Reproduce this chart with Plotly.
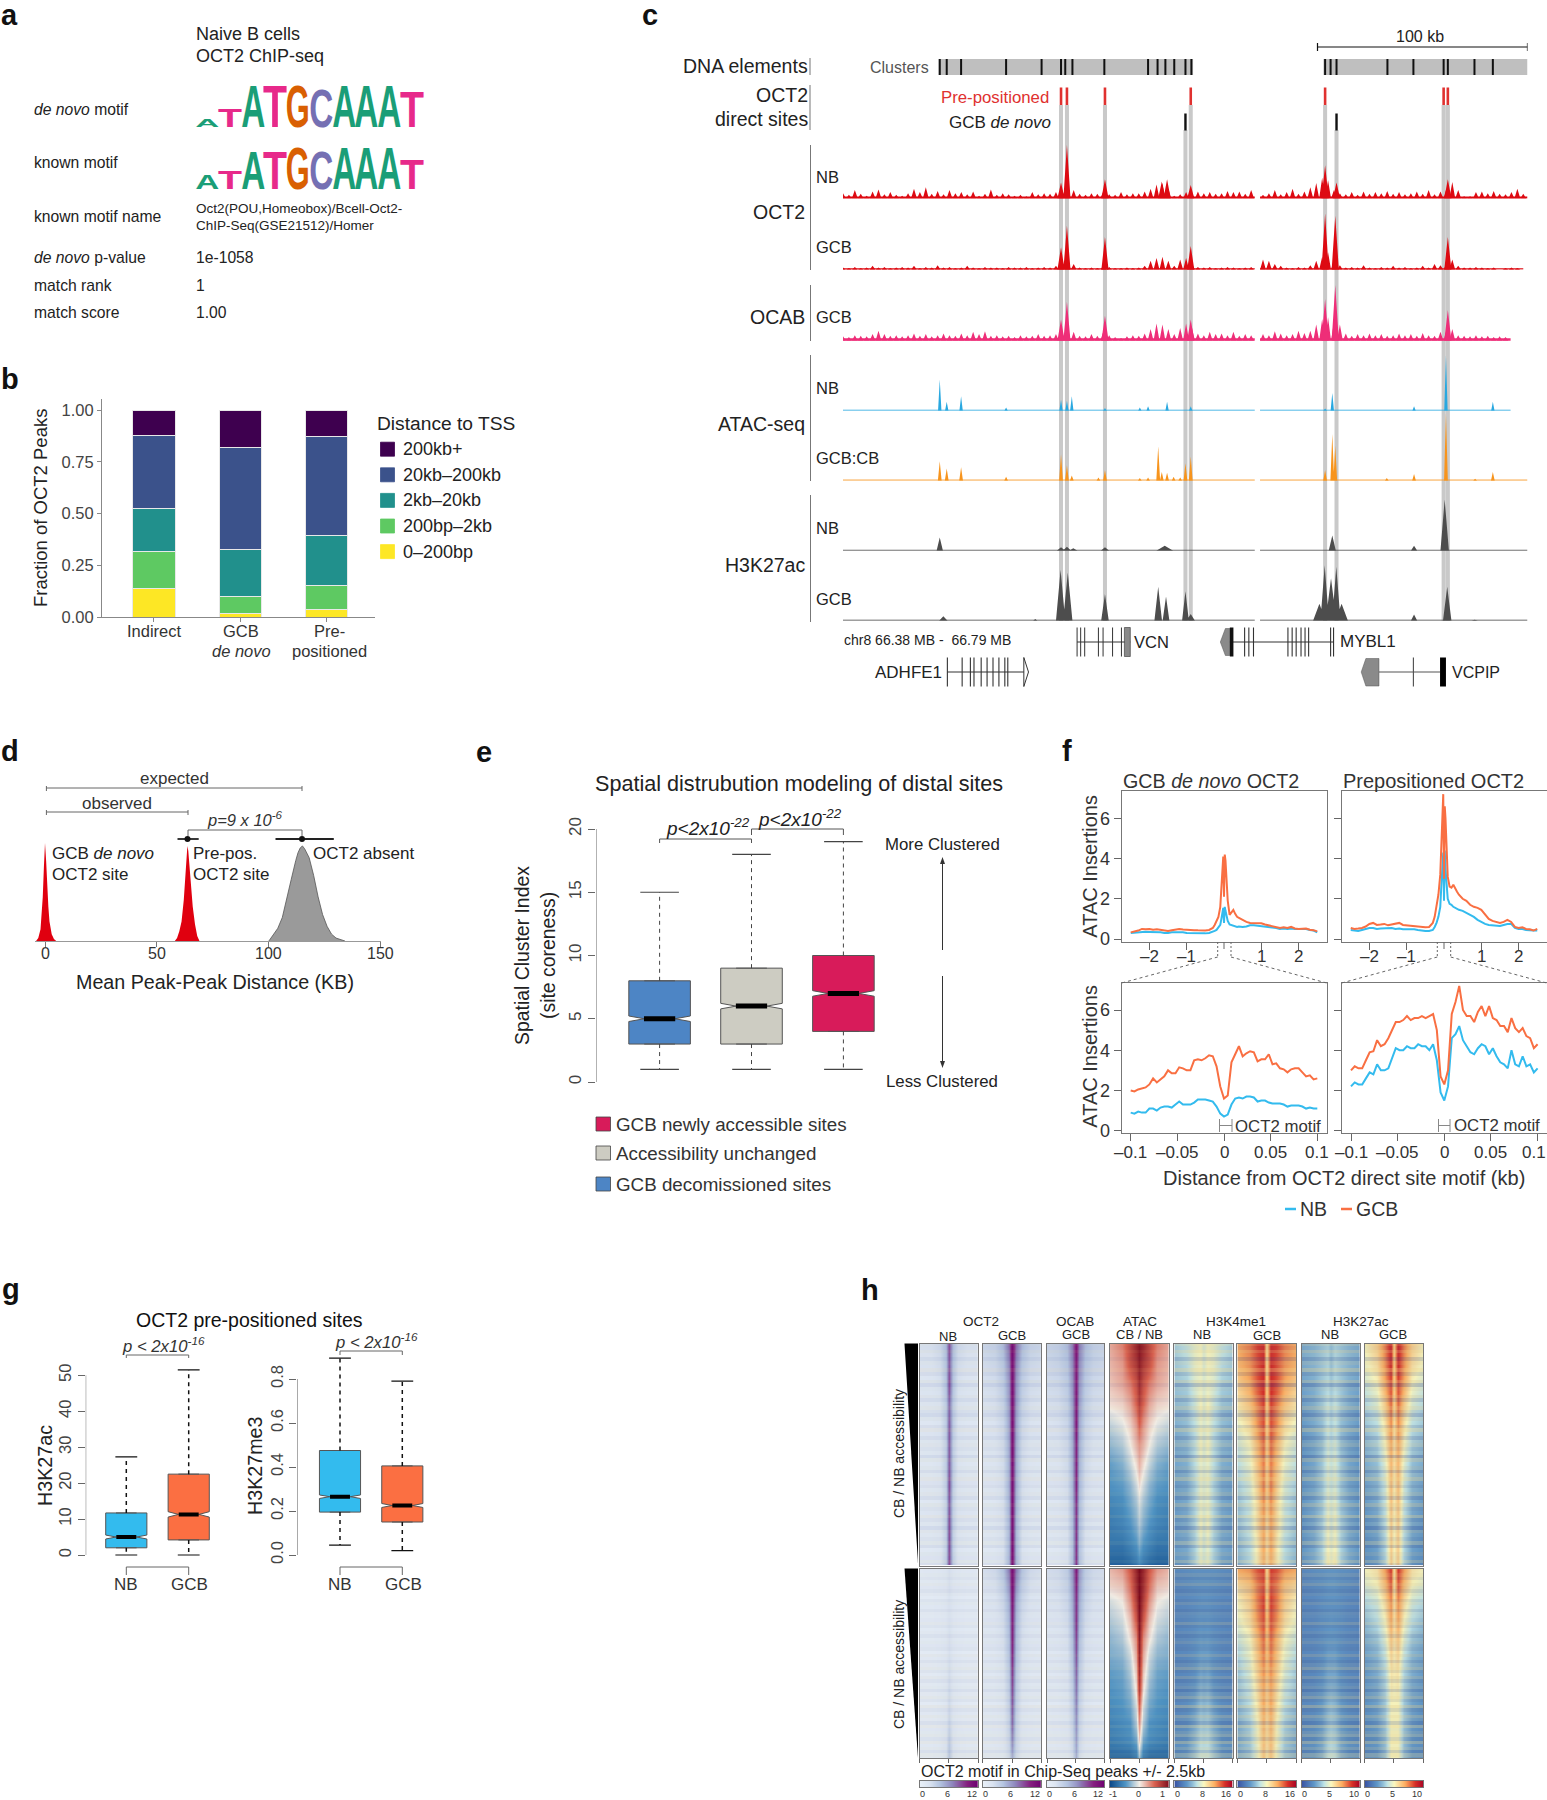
import json
import plotly.graph_objects as go

W, H = 1547, 1800
FONT = "Liberation Sans, Arial, sans-serif"
INK = "#222222"

# ---------- panel b ----------
b_cats_top = ["Indirect", "GCB", "Pre-"]
b_cats_low = ["", "<i>de novo</i>", "positioned"]
b_names = ["0–200bp", "200bp–2kb", "2kb–20kb", "20kb–200kb", "200kb+"]
b_colors = ["#fde725", "#5ec962", "#21908c", "#3b528b", "#3e004f"]
b_vals = [[0.14, 0.015, 0.035], [0.175, 0.085, 0.115], [0.21, 0.225, 0.245],
          [0.35, 0.495, 0.475], [0.125, 0.18, 0.13]]

# ---------- panel c ----------
cluster_spans = [[45.2, 165.7], [227.4, 324.0]]
cluster_ticks = [45.8, 49.1, 55.9, 77.2, 94, 103.2, 105.2, 108.6, 123.7, 144.4, 148.9, 152.6, 156.8, 162.1, 164.9,
                 228.2, 230.8, 233.6, 257.7, 270, 284.3, 286.3, 298.9, 307.6]
pre_sites = [103.2, 106, 124, 164.6, 228.2, 284.3, 286.3]
denovo_sites = [162.1, 233.6]
band_sites = [103.2, 106, 124, 162.1, 164.6, 228.2, 233.6, 284.3, 286.3]
band_tops = [105, 105, 105, 130, 105, 105, 130, 105, 105]
grid_step = 2.8
oct2_nb_noise = [10,7,16,9,5,13,17,8,12,7, 5,10,18,12,21,9,14,8,16,10, 12,8,13,5,9,17,7,10,8,5,
                 7,4,12,8,10,9,12,18,23,16, 9,7,10,9,13,8,7,12,8,10, 10,13,18,26,29,18,5,8,12,9,
                 13,10,12,9,10,14,12,13,9,16, None, 7,10,16,8,12,18,9,13,21,29, 39,34,16,10,8,12,7,13,9,12,
                 10,14,9,12,8,10,13,9,16,8, 13,18,31,16,4,4,12,13,10,14, 9,8,12,18,9]
oct2_gcb_noise = [4,3,5,3,4,7,4,5,3,4, 5,4,7,3,5,4,8,4,5,3, 4,7,4,3,5,4,4,3,5,4,
                  4,5,3,4,5,4,7,12,21,10, 4,3,4,3,7,5,3,3,4,3, 4,7,16,21,23,16,7,18,21,10,
                  5,4,5,3,4,5,4,3,4,5, None, 18,16,10,7,4,3,5,4,8,16, 23,31,18,8,4,5,4,8,4,3,
                  5,4,7,4,5,3,4,7,4,10, 8,10,18,7,4,4,5,4,3,4, 0,3,4,3,0]
ocab_noise = [8,7,10,9,8,12,18,12,9,10, 8,10,13,9,12,8,10,13,10,9, 13,10,16,12,17,9,10,8,9,7,
              10,8,9,12,9,10,12,16,23,16, 9,8,12,9,16,10,7,5,8,10, 9,13,21,31,29,21,12,23,31,23,
              13,10,16,12,13,10,16,9,12,10, None, 12,10,17,13,10,12,18,14,18,29, 39,42,34,29,13,9,12,10,13,10,
              12,9,10,13,10,12,9,14,10,9, 16,18,21,10,9,8,10,8,9,7, 8,7,None,None,None]
oct2_nb_pos = [103.2, 106, 124, 150.9, 153.4, 164.6, 228.2, 233.6, 286.3]
oct2_nb_h = [30, 100, 36, 32, 36, 25, 62, 30, 36]
oct2_gcb_pos = [103.2, 106, 124, 164.6, 228.2, 233, 286.3]
oct2_gcb_h = [40, 78, 58, 42, 100, 96, 58]
ocab_pos = [103.2, 106, 124, 164.6, 228.2, 233, 286.3]
ocab_h = [38, 70, 45, 38, 75, 100, 55]
atac_nb_pos = [45.8, 49.1, 55.9, 77.2, 103.2, 106, 108.3, 124, 140.5, 144.4, 153.4, 164.6, 228.2, 231.6, 270.3, 285.4, 307.6]
atac_nb_h = [56, 16, 26, 6, 20, 18, 26, 5, 6, 8, 16, 8, 4, 32, 8, 100, 16]
atac_gcb_pos = [45.8, 49.1, 55.9, 77.2, 103.2, 106, 108.3, 120.9, 124, 140.5, 144.4, 149.2, 150.9, 153.4, 156.5, 159.6,
                162.1, 164.6, 228.2, 231.6, 233, 257.4, 270.3, 285.4, 299.2, 307.6]
atac_gcb_h = [29, 18, 20, 6, 39, 23, 8, 5, 16, 4, 5, 51, 13, 12, 6, 5, 26, 36, 16, 69, 52, 4, 10, 100, 3, 13]
k27_nb_pos = [45.8, 103.2, 106, 109, 124, 152.3, 231.6, 270.3, 284.8]
k27_nb_h = [26, 7, 8, 5, 7, 10, 30, 10, 100]
k27_nb_w = [1.5, 2, 2, 2, 2, 4, 1.7, 1.5, 2]
k27_gcb_pos = [47.5, 91, 103, 106.4, 124, 149.2, 152.9, 162.1, 164.6, 225.5, 228, 231, 233.5, 236, 270.3, 286, 299]
k27_gcb_h = [8, 3, 90, 85, 47, 60, 43, 52, 12, 30, 98, 75, 95, 30, 11, 60, 2]
k27_gcb_w = [2, 1, 2.2, 2.2, 1.8, 1.8, 1.6, 1.6, 2, 3, 2, 2.5, 2, 3, 1.5, 2, 1.5]
vcn_exons = [110.8, 112.5, 114.4, 120.9, 123.1, 127.6, 131.8]
mybl1_exons = [190.1, 192.1, 194.3, 210.6, 212.6, 214.5, 216.8, 218.7, 220.4, 230.8, 232.2]
adhfe1_exons = [49.4, 56.4, 60.3, 62, 65.4, 68.2, 71, 73.8, 76.6, 78]
vcpip_exons = [270]

# ---------- panel d ----------
d_red1_x = [-4, -3, -2, -1.5, -1, -0.5, 0, 0.5, 1, 1.5, 2, 3, 4, 5]
d_red1_y = [0, .03, .12, .25, .45, .75, 1, .82, .55, .35, .2, .07, .02, 0]
d_red2_x = [58, 59, 60, 61, 62, 63, 63.6, 64, 65, 66, 67, 68, 69]
d_red2_y = [0, .03, .1, .2, .42, .8, .97, .92, .62, .35, .17, .05, 0]
d_grey_x = [100, 102, 104, 106, 108, 110, 112, 113, 114, 115, 116, 118, 120, 122, 124, 126, 128, 130, 134]
d_grey_y = [0, .06, .13, .24, .42, .63, .82, .9, .95, .97, .94, .85, .67, .45, .27, .15, .07, .03, 0]
d_ticks = [0, 50, 100, 150]

# ---------- panel e ----------
e_colors = ["#4d85c5", "#cdccc2", "#d81b5a"]
e_low = [1, 1, 1]
e_q1 = [3, 3, 4]
e_med = [5, 6, 7]
e_q3 = [8, 9, 10]
e_high = [15, 18, 19]

# ---------- panel f ----------
NB_C, GCB_C = "#33bbee", "#f96f42"
top_x = [-2.5,-2.4,-2.3,-2.2,-2.1,-2,-1.9,-1.8,-1.7,-1.6,-1.5,-1.4,-1.3,-1.2,-1.1,-1,-.9,-.8,-.7,-.6,-.5,-.4,-.3,-.25,-.2,-.15,-.1,-.07,-.04,-.02,0,
         .02,.04,.07,.1,.15,.2,.25,.3,.35,.4,.5,.6,.7,.8,.9,1,1.1,1.2,1.3,1.4,1.5,1.6,1.7,1.8,1.9,2,2.1,2.2,2.3,2.4,2.5]
tl_gcb = [.33,.36,.42,.5,.48,.5,.46,.48,.45,.42,.4,.44,.46,.5,.47,.45,.46,.44,.43,.42,.42,.45,.55,.7,.9,1.1,1.6,2.6,3.9,4.1,2.1,
          4.2,3.9,2.9,1.9,1.2,1.35,1.45,1.25,1.1,1.05,.95,.85,.8,.8,.78,.78,.72,.68,.62,.58,.55,.58,.55,.6,.52,.5,.5,.52,.46,.44,.38]
tl_nb = [.3,.32,.35,.36,.36,.35,.34,.36,.33,.3,.3,.34,.35,.36,.34,.3,.29,.28,.28,.28,.28,.3,.35,.4,.45,.55,.7,1,1.4,1.55,.8,
         1.6,1.4,1.1,.9,.72,.68,.65,.62,.6,.62,.6,.62,.68,.68,.66,.65,.62,.6,.58,.55,.5,.52,.5,.52,.5,.5,.5,.5,.45,.42,.33]
tr_gcb = [.55,.5,.52,.55,.62,.75,.8,.7,.72,.75,.68,.72,.75,.8,.7,.68,.65,.62,.6,.6,.58,.6,.8,1.1,1.7,2.2,3.2,4.8,6.2,7.2,3.0,
          6.6,6,4.5,3.1,2.6,2.55,2.7,2.5,2.35,2.2,2,1.9,1.7,1.6,1.55,1.45,1.2,1,.9,.85,.8,.85,.95,.85,.6,.55,.58,.5,.48,.42,.5]
tr_nb = [.45,.42,.4,.45,.5,.55,.55,.5,.52,.52,.55,.55,.5,.52,.48,.48,.5,.48,.45,.42,.4,.4,.45,.6,.8,1.1,1.6,2.7,3.8,4.3,1.9,
         4.4,3.5,2.6,2,1.75,1.7,1.6,1.55,1.5,1.45,1.4,1.3,1.2,1.1,.95,.85,.75,.7,.68,.65,.65,.7,.75,.75,.55,.5,.5,.45,.42,.42,.42]
bot_x = [-.1,-.096,-.092,-.088,-.084,-.08,-.076,-.072,-.068,-.064,-.06,-.056,-.052,-.048,-.044,-.04,-.036,-.032,-.028,-.024,-.02,-.016,-.012,-.008,-.004,0,
         .004,.008,.012,.016,.02,.024,.028,.032,.036,.04,.044,.048,.052,.056,.06,.064,.068,.072,.076,.08,.084,.088,.092,.096,.1]
bl_gcb = [2,1.95,2.05,2.1,2.15,2.3,2.6,2.4,2.55,2.7,3,2.85,2.85,3.15,3.1,3,3,3.5,3.55,3.5,3.6,3.75,3.7,3.2,2.2,1.6,
          1.75,3.4,3.8,4.2,3.7,3.85,3.95,3.9,3.45,3.55,3.55,3.8,3.3,3.35,3.1,3.05,2.9,3.05,3.1,3.1,2.9,2.7,2.75,2.55,2.6]
bl_nb = [.9,.85,.95,.9,.9,1.1,1.1,1,1.15,1.2,1.2,1.15,1.3,1.45,1.3,1.3,1.3,1.4,1.55,1.55,1.55,1.5,1.45,1.2,.85,.7,
         .8,1.3,1.6,1.65,1.6,1.7,1.7,1.65,1.45,1.5,1.5,1.4,1.35,1.35,1.35,1.3,1.2,1.25,1.25,1.25,1.2,1.1,1.15,1.1,1.1]
br_gcb = [3,3.2,3.1,3.1,3.5,3.9,3.95,4.5,4.2,4.3,4.6,5,5.4,5.4,5.5,5.7,5.5,5.6,5.6,5.7,5.6,5.7,5.8,5,2.7,2.3,
          3,5.8,6.4,7.2,6,5.7,5.7,5.4,5.9,6.2,5.7,6.2,5.6,5.5,5.2,5.2,4.9,5.6,5.1,4.9,5.1,4.7,4.6,4.1,4.3]
br_nb = [2.2,2.4,2.3,2.3,2.6,2.9,2.8,3.3,3,3,3.1,3.6,4.1,4,4,4.2,4.1,4.1,4.3,4.2,4.2,4,4.3,3.5,1.9,1.5,
         2.2,4.6,4.8,5.2,4.5,4.2,3.9,3.8,4.1,4.3,4.2,3.8,4.1,3.7,3.4,3.3,3.1,4,3.3,3.2,3.7,3.2,3.3,2.9,3.1]

# ---------- panel g ----------
g_ac_low, g_ac_q1, g_ac_med, g_ac_q3, g_ac_high = [0, 0], [2, 4.2], [5, 11.3], [11.7, 22.5], [27.3, 51.5]
g_me_low, g_me_q1, g_me_med, g_me_q3, g_me_high = [.045, .02], [.195, .15], [.265, .225], [.475, .405], [.895, .79]

# ---------- panel h (half profiles, centre outward; rows top to bottom) ----------
h_offsets = [0, .3, .8, 1.5, 2.5]
h_a = {
 "oct2_nb": [[8.5,4.5,2.6,2,1.9],[8,4,2.2,1.7,1.6],[8.5,4,2,1.6,1.5],[7.5,3.5,1.8,1.5,1.4],[8,3.5,1.7,1.3,1.3],[8,3.2,1.6,1.3,1.2],[8,3.4,1.6,1.2,1.2],[8.5,3.2,1.5,1.2,1.1],[8,3,1.5,1.2,1.1],[8.5,3.2,1.5,1.1,1.1],[8.5,3,1.4,1.1,1],[8.5,3.4,1.5,1.2,1.2]],
 "oct2_gcb": [[11.5,7.5,4.6,3.2,2.8],[11,6.5,3.8,2.6,2.2],[11,6,3.4,2.3,2],[11,5.8,3,2,1.7],[11,5.4,2.6,1.8,1.5],[11,5.2,2.4,1.6,1.4],[11,5,2.2,1.5,1.3],[11,5,2.1,1.4,1.2],[11,4.8,2,1.3,1.1],[11,4.6,1.9,1.3,1.1],[11,4.6,1.8,1.2,1],[11,4.8,1.9,1.3,1.2]],
 "ocab": [[10.5,7,4.6,3.4,3],[10,6.4,4,3,2.6],[10,6,3.6,2.6,2.3],[10,5.6,3.2,2.2,2],[10,5.2,2.8,2,1.7],[9.5,5,2.6,1.8,1.6],[9.5,4.8,2.4,1.6,1.4],[9.5,4.6,2.2,1.5,1.3],[9,4.4,2,1.4,1.2],[9,4.2,1.9,1.3,1.1],[9,4,1.8,1.2,1],[9,4.2,1.9,1.3,1.1]],
 "atac": [[.95,.85,.65,.4,.25],[.9,.75,.6,.3,.2],[.8,.6,.4,.25,.15],[.7,.5,.25,.1,.05],[.5,.3,.1,-.05,-.15],[.3,.2,0,-.2,-.3],[.2,.05,-.15,-.35,-.45],[.05,-.1,-.3,-.45,-.5],[-.1,-.25,-.4,-.55,-.6],[-.2,-.35,-.5,-.6,-.65],[-.35,-.5,-.6,-.7,-.7],[-.6,-.7,-.8,-.85,-.85]],
 "k4_nb": [[7,8,7.5,6.5,5.5],[7,8,7.5,6,5.2],[7,7.5,7,5.5,5],[7,8,6.5,5,4.6],[7,7.5,6.2,4.8,4.2],[7,8,6,4.5,4],[7,7.5,6,4.2,3.8],[7,7.5,5.6,4,3.6],[7,7.5,5.8,4,3.5],[7,8,5.6,4,3.5],[6.5,7.5,5.5,4,3.6],[7,7.5,5.5,3.8,3.4]],
 "k4_gcb": [[9,14,13.5,12,11],[9,14,13,11.5,10.5],[9.5,14,13,11,9.5],[9.5,13.5,12,10,8.5],[9.5,13,11.5,9,7.5],[9.5,12.5,10.5,8,6.5],[9.5,12,10,7.5,6],[9.5,12,9.5,7,5.5],[9.5,11.5,9,6.5,5],[9,11,9,6.5,5],[9,11,8.5,6,4.6],[9,10.5,8.5,6,4.5]],
 "k27_nb": [[3,3.5,3.2,2.8,2.5],[3,3.6,3.2,2.8,2.5],[3.2,3.6,3.2,2.6,2.3],[3.5,4,3.2,2.6,2.2],[3.5,4,3,2.5,2.1],[3.8,4.2,3,2.4,2],[4,4.4,3.2,2.4,2],[4,4.4,3.2,2.4,2],[4.2,4.6,3.2,2.5,2],[4.2,4.8,3.4,2.5,2],[4.5,5,3.5,2.5,2],[4.8,5.2,3.5,2.6,2]],
 "k27_gcb": [[6,9,7.5,6,5],[6,8.8,7.2,5.6,4.8],[6,8.2,6.8,5,4.2],[5.8,7.8,6,4.4,3.6],[5.5,7.2,5.4,3.8,3.2],[5.5,6.8,5,3.4,2.8],[5.5,6.5,4.5,3,2.5],[5.2,6.4,4.2,2.8,2.3],[5.2,6.2,4,2.6,2.1],[5,6,3.8,2.4,2],[5,6,3.6,2.3,1.9],[5,6,3.5,2.2,1.8]],
}
h_b = {
 "oct2_nb": [[2,1.3,1,.9,.8],[2,1.2,1,.8,.8],[1.8,1.2,.9,.8,.7],[1.8,1.1,.9,.8,.7],[2,1.2,.9,.8,.7],[2,1.2,.9,.7,.7],[2.2,1.2,.9,.7,.7],[2.4,1.3,.9,.7,.7],[2.5,1.3,.9,.7,.7],[2.8,1.4,.9,.7,.7],[3.5,1.6,1,.8,.7],[4,1.8,1,.8,.7]],
 "oct2_gcb": [[11,7,4,2.5,2],[11,6,3.2,1.9,1.5],[10.5,5,2.6,1.6,1.3],[10,4.6,2.2,1.4,1.2],[10,4.2,2,1.3,1.1],[9.5,4,1.8,1.2,1],[9,3.6,1.6,1.1,1],[8.5,3.4,1.5,1.1,1],[8,3.2,1.4,1,.9],[7.5,3,1.3,1,.9],[6.5,2.8,1.3,1,.9],[5,2.5,1.2,.9,.8]],
 "ocab": [[10,6,3.5,2.5,2.2],[9.5,5.5,3,2.1,1.8],[9,5,2.6,1.8,1.6],[9,4.6,2.3,1.6,1.4],[8.5,4.2,2,1.4,1.2],[8,3.8,1.8,1.3,1.1],[7.5,3.5,1.7,1.2,1],[7,3.2,1.6,1.1,1],[6.5,3,1.5,1.1,.9],[6,2.8,1.4,1.1,.9],[5.5,2.5,1.3,1,.9],[5,2.2,1.2,1,.8]],
 "atac": [[1,.85,.55,.3,.2],[1,.8,.45,.15,.1],[1,.7,.3,0,-.1],[.95,.55,.15,-.1,-.2],[.9,.35,.05,-.2,-.3],[.85,.25,-.1,-.3,-.35],[.8,.15,-.2,-.4,-.45],[.7,.05,-.3,-.45,-.5],[.5,-.1,-.4,-.5,-.55],[.3,-.2,-.5,-.55,-.6],[.1,-.4,-.55,-.6,-.65],[-.3,-.7,-.8,-.8,-.8]],
 "k4_nb": [[3,3,3,2.8,2.6],[3,3,2.9,2.7,2.5],[3,3,2.8,2.6,2.5],[3,3.1,2.8,2.6,2.4],[3.2,3.3,2.9,2.6,2.4],[3.5,3.5,3,2.6,2.4],[3.6,3.8,3,2.6,2.4],[4,4.2,3.2,2.7,2.5],[4.5,4.8,3.6,2.8,2.5],[5,5.2,4,3,2.7],[5.8,6,4.6,3.2,2.9],[6.5,6.5,5,3.5,3]],
 "k4_gcb": [[9,13.5,13,11.5,11],[9.5,13,12,10,9],[9.5,13.5,12,9.5,8],[10,13,11.5,9,7.5],[10,12.5,10.5,8,6.5],[10,12,10,7.5,5.8],[10,11.5,9.5,7,5.2],[9.5,11,9,6.5,5],[9.5,11,8.5,6,4.6],[9,10.5,8,5.5,4.2],[9,10.2,7.8,5.2,4],[8.5,10,7.5,5,4]],
 "k27_nb": [[2,2,1.9,1.8,1.6],[2,2,1.8,1.7,1.5],[1.9,1.9,1.8,1.6,1.5],[2,1.9,1.8,1.6,1.5],[2,2,1.8,1.6,1.5],[2.2,2.2,1.8,1.6,1.5],[2.4,2.4,1.9,1.6,1.5],[2.6,2.5,2,1.7,1.5],[3,2.8,2.1,1.7,1.6],[3.2,3,2.2,1.8,1.6],[3.6,3.4,2.4,1.9,1.7],[4,3.8,2.6,2,1.8]],
 "k27_gcb": [[5.5,8.5,7,5.5,5],[5.5,8,6.4,5,4.4],[5.5,7.2,5.6,4.2,3.6],[5.5,6.8,5,3.8,3],[5.5,6.2,4.5,3.2,2.6],[5.2,5.8,4,2.8,2.3],[5.2,5.4,3.6,2.6,2.1],[5,5.2,3.4,2.4,2],[5,5,3.2,2.3,1.9],[5,5,3.2,2.2,1.8],[5,5,3,2.1,1.8],[5,5,3,2,1.8]],
}
# row streak strength, read along the height of the top and bottom blocks
streak_a = [.5,-.3,.6,.2,-.6,.4,-.2,.7,-.5,.1,.6,-.7,.3,-.1,.5,-.6,.2,.6,-.4,-.7,.4,.1,-.5,.7,-.2,-.6,.3,.5,-.4,.2,
            -.7,.6,-.1,.4,-.6,.3,.7,-.3,-.5,.2,.5,-.6,.1,.6,-.4,-.2,.7,-.5,.3,-.7,.5,.2,-.4,.6,-.6,.1,.4,-.3,.6,-.5]
streak_b = [.3,-.2,.4,-.4,.2,.5,-.3,-.5,.3,.1,-.4,.4,-.2,-.5,.3,.2,-.3,.5,-.4,-.1,.3,-.5,.2,.4,-.3,-.4,.1,.5,-.2,-.5,
            .3,.6,-.4,-.1,.5,-.5,.2,.4,-.6,.3,.6,-.4,.1,.7,-.5,-.2,.6,.3,-.6,.7,-.3,.4,.6,-.5,.7,-.2,.5,-.6,.6,.3]
h_streak_op = [.3, .3, .3, .25, 1, 1, 1, 1]
CS_STREAK = [[0, "rgba(30,50,140,0.42)"], [.5, "rgba(128,128,128,0)"], [1, "rgba(255,225,140,0.5)"]]
h_cols = ["oct2_nb", "oct2_gcb", "ocab", "atac", "k4_nb", "k4_gcb", "k27_nb", "k27_gcb"]
h_cmin = [0, 0, 0, -1, 0, 0, 0, 0]
h_cmax = [12, 12, 12, 1, 16, 16, 10, 10]
h_ticks = [["0","6","12"],["0","6","12"],["0","6","12"],["-1","0","1"],["0","8","16"],["0","8","16"],["0","5","10"],["0","5","10"]]
CS_PURPLE = [[0,"#e9f0f8"],[.15,"#dbe4f1"],[.35,"#b3c3e0"],[.55,"#8f87bd"],[.8,"#85207f"],[1,"#6d006f"]]
CS_RDBU = [[0,"#0d4a8a"],[.25,"#4f94c4"],[.5,"#f3eee6"],[.75,"#d9614f"],[1,"#7d0b1c"]]
CS_SPEC = [[0,"#3b55a4"],[.2,"#5f97c8"],[.38,"#bfe3e6"],[.5,"#fbf8bf"],[.68,"#fdae61"],[.85,"#d73027"],[1,"#a50026"]]
h_scales = [CS_PURPLE, CS_PURPLE, CS_PURPLE, CS_RDBU, CS_SPEC, CS_SPEC, CS_SPEC, CS_SPEC]

# ---------- logos ----------
logo_letters = list("ATATGCAAAT")
logo_denovo_h = [7, 18, 42, 42, 42, 38, 42, 42, 42, 35]
logo_known_h = [14, 18, 38, 38, 41, 38, 42, 42, 42, 30]
LOGO_C = {"A": "#1a9e77", "T": "#e7298a", "G": "#d95f02", "C": "#7570b3"}
GLYPH_W = {"A": .722, "T": .611, "G": .778, "C": .722}

# ========== helpers ==========
fig = go.Figure()
ann, shapes = [], []
nax = [0]

def px(x): return x / W
def py(y): return 1 - y / H

def T(x, y, s, size=15, a="left", color=INK, angle=0, v="middle", bold=False):
    if bold:
        s = "<b>%s</b>" % s
    ann.append(dict(x=px(x), y=py(y), xref="paper", yref="paper", text=s, showarrow=False, xanchor=a, yanchor=v,
                    textangle=angle, align="center" if a == "center" else a,
                    font=dict(size=size, color=color, family=FONT), borderpad=0))

def L(x0, y0, x1, y1, color="#555555", width=1, dash=None):
    shapes.append(dict(type="line", xref="paper", yref="paper", x0=px(x0), y0=py(y0), x1=px(x1), y1=py(y1),
                       line=dict(color=color, width=width, dash=dash)))

def R(x0, y0, x1, y1, color, line="#444444"):
    shapes.append(dict(type="rect", xref="paper", yref="paper", x0=px(x0), y0=py(y0), x1=px(x1), y1=py(y1),
                       fillcolor=color, line=dict(color=line, width=.8)))

def poly(points, color):
    d = "M " + " L ".join("%f %f" % (px(a), py(b)) for a, b in points) + " Z"
    shapes.append(dict(type="path", xref="paper", yref="paper", fillcolor=color, line=dict(width=0), path=d))

def rng(v0, p0, v1, p1, pa, pb):
    k = (v1 - v0) / (p1 - p0)
    return [v0 + (pa - p0) * k, v0 + (pb - p0) * k]

def axes(x0, y0, x1, y1, xr, yr, xo=None, yo=None):
    nax[0] += 1
    n = nax[0]
    sx = "" if n == 1 else str(n)
    base = dict(showgrid=False, zeroline=False, visible=False, fixedrange=True)
    xa = dict(base, domain=[px(x0), px(x1)], range=xr, anchor="y" + sx)
    ya = dict(base, domain=[py(y1), py(y0)], range=yr, anchor="x" + sx)
    xa.update(xo or {})
    ya.update(yo or {})
    fig.layout["xaxis" + sx] = xa
    fig.layout["yaxis" + sx] = ya
    return "x" + sx, "y" + sx

def triangles(pos, h, w):
    xs, ys = [], []
    for i, p in enumerate(pos):
        if h[i] is None:
            continue
        wi = w[i] if isinstance(w, list) else w
        xs += [p - wi, p, p + wi, None]
        ys += [0, h[i], 0, None]
    return xs, ys

def vlines(xs, y0, y1):
    ox, oy = [], []
    for p in xs:
        ox += [p, p, None]
        oy += [y0, y1, None]
    return ox, oy

def line(xa, ya, x, y, color, width=1, dash=None, **kw):
    fig.add_trace(go.Scatter(x=x, y=y, xaxis=xa, yaxis=ya, mode="lines", hoverinfo="skip",
                             line=dict(color=color, width=width, dash=dash), **kw))

def fill(xa, ya, x, y, color, lc=None, lw=0):
    fig.add_trace(go.Scatter(x=x, y=y, xaxis=xa, yaxis=ya, mode="lines", fill="toself", fillcolor=color, hoverinfo="skip",
                             line=dict(color=lc or color, width=lw)))

def rect_xy(a, b, y0, y1):
    return [a, b, b, a, a, None], [y0, y0, y1, y1, y0, None]

# ========== panel letters ==========
for s, x, y in [("a", 0, 15), ("b", 0, 379), ("c", 641, 15), ("d", 0, 751), ("e", 475, 752), ("f", 1061, 751), ("g", 1, 1289), ("h", 860, 1290)]:
    T(x, y, s, 29, bold=True, color="#111111")

# ========== panel a ==========
T(195, 34, "Naive B cells", 18)
T(195, 56, "OCT2 ChIP-seq", 18)
T(32.5, 109, "<i>de novo</i> motif", 15.7)
T(32.5, 163, "known motif", 15.7)
T(32.5, 217, "known motif name", 15.7)
T(32.5, 258, "<i>de novo</i> p-value", 15.7)
T(32.5, 285, "match rank", 15.7)
T(32.5, 312, "match score", 15.7)
T(195, 209, "Oct2(POU,Homeobox)/Bcell-Oct2-", 13.5)
T(195, 225, "ChIP-Seq(GSE21512)/Homer", 13.5)
T(195, 258, "1e-1058", 15.7)
T(195, 285, "1", 15.7)
T(195, 312, "1.00", 15.7)
logo_js = []
LOGO_FS = 56
for heights, base in [(logo_denovo_h, 127), (logo_known_h, 190)]:
    for i, (ch, h) in enumerate(zip(logo_letters, heights)):
        T(196 + 22.7 * (i + .5), base, "<b>%s</b>" % ch, LOGO_FS, a="center", color=LOGO_C[ch])
        logo_js.append(dict(i=len(ann) - 1, sx=round(24.0 / (GLYPH_W[ch] * LOGO_FS), 3), sy=round(h / (.70 * LOGO_FS), 3)))

# ========== browser rows axis (panel c; first so grey bands sit underneath) ==========
bx0, bx1 = 843, 1527.5
bxr = [0, 324]
xa, ya = axes(bx0, 40, bx1, 700, bxr, [700, 40])
bx, by = [], []
for s, t in zip(band_sites, band_tops):
    a, c = rect_xy(s - .95, s + .95, t, 621)
    bx += a; by += c
fill(xa, ya, bx, by, "#c9c9c9")
bx, by = [], []
for s in cluster_spans:
    a, c = rect_xy(s[0], s[1], 59, 75)
    bx += a; by += c
fill(xa, ya, bx, by, "#bfbfbf")
a, c = vlines(cluster_ticks, 59, 75)
line(xa, ya, a, c, "#111111", 2)
a, c = vlines(pre_sites, 87.5, 105)
line(xa, ya, a, c, "#e0312f", 2.6)
a, c = vlines(denovo_sites, 113.5, 130.5)
line(xa, ya, a, c, "#111111", 2.4)
line(xa, ya, [224.6, 224.6, None, 224.6, 324, None, 324, 324], [43, 51, None, 47, 47, None, 43, 51], "#111111", 1.2)
# genes
a, c = vlines(vcn_exons, 627.5, 656.5)
line(xa, ya, a + [110.8, 136], c + [642, 642], "#333333", 1)
a, c = rect_xy(133.2, 136, 627.5, 656.5)
fill(xa, ya, a, c, "#8a8a8a", "#333333", .6)
a, c = vlines(mybl1_exons, 627.5, 656.5)
line(xa, ya, a + [183, 232], c + [642, 642], "#333333", 1.1)
fill(xa, ya, [178.6, 181, 183.1, 183.1, 181, 178.6], [642, 628.5, 628.5, 655.5, 655.5, 642], "#8a8a8a", "#555555", .5)
a, c = rect_xy(183.1, 184.8, 627.5, 656.5)
fill(xa, ya, a, c, "#111111")
a, c = vlines(adhfe1_exons, 657.5, 686.5)
line(xa, ya, a + [49.4, 85.6], c + [672, 672], "#333333", 1.1)
line(xa, ya, [85.6, 87.8, 85.6, 85.6], [657.5, 672, 686.5, 657.5], "#333333", 1)
fill(xa, ya, [245.3, 247.5, 253.7, 253.7, 247.5, 245.3], [672, 658.5, 658.5, 686, 686, 672], "#8a8a8a", "#555555", .5)
a, c = vlines(vcpip_exons, 657.5, 686.5)
line(xa, ya, a + [253.7, 282.6], c + [672, 672], "#555555", 1.2)
a, c = rect_xy(282.6, 285.4, 657.5, 686.5)
fill(xa, ya, a, c, "#000000")

# ========== panel b ==========
xa, ya = axes(102, 399, 375, 617, [-.6, 2.56], rng(0, 617, 1, 410, 617, 399),
              dict(visible=True, showline=True, linecolor="#888888", ticks="outside", ticklen=4, tickcolor="#888888",
                   tickmode="array", tickvals=[0, 1, 2], showticklabels=False),
              dict(visible=True, showline=True, linecolor="#888888", ticks="outside", ticklen=4, tickcolor="#888888",
                   tickmode="array", tickvals=[0, .25, .5, .75, 1], ticktext=["0.00", "0.25", "0.50", "0.75", "1.00"],
                   tickfont=dict(size=16.5, color="#444444")))
for name, color, v in zip(b_names, b_colors, b_vals):
    fig.add_trace(go.Bar(x=[0, 1, 2], y=v, name=name, xaxis=xa, yaxis=ya, width=.49, hoverinfo="skip",
                         marker=dict(color=color, line=dict(color="#e8e8e8", width=1))))
for s, s2, x in zip(b_cats_top, b_cats_low, [154, 241, 329]):
    T(x, 631, s, 16.5, a="center", color="#333333")
    if s2:
        T(x, 651, s2, 16.5, a="center", color="#333333")
T(41, 508, "Fraction of OCT2 Peaks", 18.5, a="center", angle=-90, color="#222222")
T(376, 424, "Distance to TSS", 19.2)
for i, (name, color) in enumerate(zip(b_names[::-1], b_colors[::-1])):
    yy = 449.2 + 25.6 * i
    R(380.5, yy - 7, 394.5, yy + 7, color, color)
    T(402, yy, name, 18)

# ========== panel c tracks ==========
track_rows = [(198.5, 145), (269.7, 213.5), (340.8, 285), (410.8, 355), (480.8, 413), (550.8, 499.5), (620.8, 564)]
def noise_track(row, noise, pos, h, color, end, base_w):
    xa, ya = axes(bx0, row[1], bx1, row[0], bxr, [0, 100])
    line(xa, ya, [0, 194.9, None, 197.4, end], [1.5, 1.5, None, 1.5, 1.5], color, base_w)
    a, c = triangles([i * grid_step for i in range(len(noise))], noise, 1.4)
    fill(xa, ya, a, c, color)
    a, c = triangles(pos, h, 1.7)
    fill(xa, ya, a, c, color)
def sparse_track(row, pos, h, w, color, end, base_w=1):
    xa, ya = axes(bx0, row[1], bx1, row[0], bxr, [0, 100])
    line(xa, ya, [0, 194.9, None, 197.4, end], [1, 1, None, 1, 1], color, base_w)
    a, c = triangles(pos, h, w)
    fill(xa, ya, a, c, color)
noise_track(track_rows[0], oct2_nb_noise, oct2_nb_pos, oct2_nb_h, "#dd0a12", 324, 2.2)
noise_track(track_rows[1], oct2_gcb_noise, oct2_gcb_pos, oct2_gcb_h, "#dd0a12", 322, 1.4)
noise_track(track_rows[2], ocab_noise, ocab_pos, ocab_h, "#ee2e78", 316, 3.2)
sparse_track(track_rows[3], atac_nb_pos, atac_nb_h, .8, "#29a8e0", 316)
sparse_track(track_rows[4], atac_gcb_pos, atac_gcb_h, .9, "#f7941d", 324)
sparse_track(track_rows[5], k27_nb_pos, k27_nb_h, k27_nb_w, "#4d4d4d", 324)
sparse_track(track_rows[6], k27_gcb_pos, k27_gcb_h, k27_gcb_w, "#4d4d4d", 324)

for s, y in [("DNA elements", 66), ("OCT2", 95), ("direct sites", 119)]:
    T(808.5, y, s, 19.5, a="right")
L(810, 58, 810, 75, "#777777")
L(810, 85, 810, 130, "#777777")
T(930, 67, "Clusters", 16, a="right", color="#555555")
T(1050, 98, "Pre-positioned", 16.8, a="right", color="#e0312f")
T(1052, 122, "GCB <i>de novo</i>", 17, a="right")
T(1420, 37, "100 kb", 16, a="center")
for s, y in [("OCT2", 212), ("OCAB", 317), ("ATAC-seq", 424), ("H3K27ac", 565)]:
    T(805.5, y, s, 19.5, a="right")
for y0, y1 in [(145, 270), (285, 341), (355, 481), (495, 622)]:
    L(810.5, y0, 810.5, y1, "#777777")
for s, y in [("NB", 177), ("GCB", 247), ("GCB", 317), ("NB", 388), ("GCB:CB", 458), ("NB", 528), ("GCB", 599)]:
    T(815, y, s, 16.5)
T(843, 639.5, "chr8 66.38 MB -  66.79 MB", 14)
T(1133, 641.5, "VCN", 16.5)
T(1339, 641.5, "MYBL1", 17)
T(943, 672.5, "ADHFE1", 17, a="right")
T(1451, 672.5, "VCPIP", 16)

# ========== panel d ==========
xr_d = rng(0, 45, 150, 380.8, 35, 381)
xa, ya = axes(35, 780, 381, 941, xr_d, rng(0, 941, 1, 843, 941, 780),
              dict(visible=True, showline=True, linecolor="#999999", ticks="outside", ticklen=5, tickcolor="#777777",
                   tickmode="array", tickvals=d_ticks, showticklabels=False))
fill(xa, ya, d_grey_x, d_grey_y, "#9a9a9a", "#555555", .8)
fill(xa, ya, d_red1_x, d_red1_y, "#e0000f")
fill(xa, ya, d_red2_x, d_red2_y, "#e0000f")
for v in d_ticks:
    T(45 + v * (380.8 - 45) / 150, 953.5, str(v), 16, a="center", color="#333333")
for x0, x1, y in [(46.4, 302, 788), (46.4, 188, 812), (188, 302, 830)]:
    L(x0, y, x1, y, "#666666", 1)
    L(x0, y - 2 if y != 830 else y, x0, y + 3 if y != 830 else y + 6, "#666666", 1)
    L(x1, y - 2 if y != 830 else y, x1, y + 3 if y != 830 else y + 6, "#666666", 1)
L(177.5, 839, 198.7, 839, "#222222", 1.8)
L(275.5, 839, 333.8, 839, "#222222", 1.8)
shapes.append(dict(type="circle", xref="paper", yref="paper", x0=px(184.5), x1=px(190.5), y0=py(842), y1=py(836), fillcolor="#111111", line=dict(width=0)))
shapes.append(dict(type="circle", xref="paper", yref="paper", x0=px(299), x1=px(305), y0=py(842), y1=py(836), fillcolor="#111111", line=dict(width=0)))
T(174, 779, "expected", 17, a="center", color="#333333")
T(117, 803, "observed", 17, a="center", color="#333333")
T(245, 819, "<i>p=9 x 10<sup>-6</sup></i>", 16.5, a="center", color="#333333")
T(51, 853, "GCB <i>de novo</i>", 17)
T(51, 874.5, "OCT2 site", 17)
T(192, 853, "Pre-pos.", 17)
T(192, 874.5, "OCT2 site", 17)
T(312, 853, "OCT2 absent", 17)
T(215, 982, "Mean Peak-Peak Distance (KB)", 19.7, a="center")

# ========== panel e ==========
def tick_y(vals, text=None, size=15):
    return dict(visible=True, showline=False, ticks="outside", ticklen=7, tickcolor="#666666", tickangle=-90,
                tickmode="array", tickvals=vals, ticktext=text or [str(v) for v in vals], tickfont=dict(size=size, color="#444444"))

def boxes(xa, ya, xleft, xs, low, q1, med, q3, high, colors, notch, boxw, capw, medw, medlw, axis_top, dashc, dashw=1, axis_c="#666666"):
    for i, xc in enumerate(xs):
        line(xa, ya, [xc, xc, None, xc, xc], [q3[i], high[i], None, q1[i], low[i]], dashc, dashw, "4px,4px")
        line(xa, ya, [xc - capw, xc + capw, None, xc - capw, xc + capw], [high[i], high[i], None, low[i], low[i]], dashc, 1.2)
        fig.add_trace(go.Box(x=[xc], q1=[q1[i]], median=[med[i]], q3=[q3[i]], lowerfence=[q1[i]], upperfence=[q3[i]],
                             notched=True, notchspan=[notch[i]], notchwidth=.25, width=boxw, xaxis=xa, yaxis=ya,
                             boxpoints=False, fillcolor=colors[i], hoverinfo="skip", line=dict(color="#555555", width=1)))
        line(xa, ya, [xc - medw, xc + medw], [med[i], med[i]], "#000000", medlw)
    line(xa, ya, [xleft, xleft], [0, axis_top], axis_c, 1, cliponaxis=False)

xrange_e = rng(0, 659.6, 1, 751.5, 596, 900)
xa, ya = axes(596, 815, 900, 1082, xrange_e, rng(0, 1082, 20, 829, 1082, 815), None, tick_y([0, 5, 10, 15, 20], size=17))
boxes(xa, ya, xrange_e[0], [0, 1, 2], e_low, e_q1, e_med, e_q3, e_high, e_colors, [.22, .22, .22], .67, .21, .17, 5, 20, "#444444")
T(522, 956, "Spatial Cluster Index", 19.4, a="center", angle=-90)
T(548, 956, "(site coreness)", 19.4, a="center", angle=-90)
T(799, 784, "Spatial distrubution modeling of distal sites", 21.6, a="center")
T(707.5, 827, "<i>p&lt;2x10<sup>-22</sup></i>", 19, a="center")
T(800, 818, "<i>p&lt;2x10<sup>-22</sup></i>", 19, a="center")
L(659.6, 839, 751.5, 839); L(659.6, 839, 659.6, 843); L(751.5, 839, 751.5, 843)
L(751.5, 829, 843.4, 829); L(751.5, 829, 751.5, 835); L(843.4, 829, 843.4, 835)
T(942.5, 844, "More Clustered", 16.8, a="center")
T(942.5, 1081, "Less Clustered", 16.8, a="center")
L(942.5, 950, 942.5, 862, "#333333"); poly([(942.5, 857), (940, 864), (945, 864)], "#333333")
L(942.5, 976, 942.5, 1063, "#333333"); poly([(942.5, 1068), (940, 1061), (945, 1061)], "#333333")
for s, c, y in [("GCB newly accessible sites", e_colors[2], 1124), ("Accessibility unchanged", e_colors[1], 1153), ("GCB decomissioned sites", e_colors[0], 1184)]:
    R(596, y - 7, 610.5, y + 7, c)
    T(614.5, y, s, 18.8, color="#333333")

# ========== panel f ==========
def f_axes(x0, y0, x1, y1, xr, yr, xt, show_y):
    xo = dict(visible=True, showline=True, mirror=True, linecolor="#777777", ticks="outside", ticklen=7, tickcolor="#666666",
              tickmode="array", tickvals=xt, showticklabels=False)
    yo = dict(visible=True, showline=True, mirror=True, linecolor="#777777", ticks="outside", ticklen=7, tickcolor="#666666",
              tickmode="array", tickvals=[0, 2, 4, 6], showticklabels=show_y, tickfont=dict(size=18, color="#333333"))
    return axes(x0, y0, x1, y1, xr, yr, xo, yo)

top_t, top_tt = [-2, -1, 1, 2], ["–2", "–1", "1", "2"]
bot_t, bot_tt = [-.1, -.05, 0, .05, .1], ["–0.1", "–0.05", "0", "0.05", "0.1"]
yr_top = rng(0, 939, 6, 818.3, 941.7, 791)
yr_bot = rng(0, 1130.7, 6, 1010, 1133, 983)
panels = [
 (1121.7, 791, 1326.7, 941.7, 1224, 37.3, yr_top, top_t, top_tt, True, top_x, tl_nb, tl_gcb, 957),
 (1341.7, 791, 1546.7, 941.7, 1444, 37.3, yr_top, top_t, top_tt, False, top_x, tr_nb, tr_gcb, 957),
 (1121.7, 983, 1326.7, 1133, 1224, 933, yr_bot, bot_t, bot_tt, True, bot_x, bl_nb, bl_gcb, 1152),
 (1341.7, 983, 1546.7, 1133, 1444.3, 933, yr_bot, bot_t, bot_tt, False, bot_x, br_nb, br_gcb, 1152),
]
for p in panels:
    x0, y0, x1, y1, zero, per, yr, xt, xtt, show_y, xs, nb, gcb, ly = p
    xr = rng(0, zero, 1, zero + per, x0, x1)
    xa, ya = f_axes(x0, y0, x1, y1, xr, yr, xt, show_y)
    line(xa, ya, xs, nb, NB_C, 2)
    line(xa, ya, xs, gcb, GCB_C, 2)
    for v, s in zip(xt, xtt):
        xp = zero + v * per
        if xp + 14 > W:
            T(W, ly, s, 17, a="right", color="#333333")
        else:
            T(xp, ly, s, 17, a="center", color="#333333")
L(1224, 942, 1224, 949, "#666666"); L(1444, 942, 1444, 949, "#666666")
T(1121.7, 780.5, "GCB <i>de novo</i> OCT2", 19.7, color="#333333")
T(1341.7, 780.5, "Prepositioned OCT2", 20, color="#333333")
T(1090, 866.7, "ATAC Insertions", 20, a="center", angle=-90, color="#333333")
T(1090, 1056.7, "ATAC Insertions", 20, a="center", angle=-90, color="#333333")
T(1344, 1178, "Distance from OCT2 direct site motif (kb)", 20, a="center", color="#333333")
L(1285, 1209, 1296, 1209, NB_C, 2.5)
T(1299, 1209, "NB", 19.5, color="#333333")
L(1341, 1209, 1352, 1209, GCB_C, 2.5)
T(1355, 1209, "GCB", 19.5, color="#333333")
for x, far in [(1217.7, 1121.7), (1231, 1326.7), (1437.3, 1341.7), (1450.7, 1546.7)]:
    L(x, 942, x, 957, "#666666", 1, "2px,2px")
    L(x, 957, far, 983, "#666666", 1, "3px,3px")
for x0, x1, xt, yt in [(1219.5, 1232, 1234, 1126), (1438.5, 1450, 1452.7, 1125)]:
    L(x0, 1119, x0, 1132, "#888888"); L(x1, 1119, x1, 1132, "#888888"); L(x0, 1125.5, x1, 1125.5, "#888888")
    T(xt, yt, "OCT2 motif", 16.8, color="#333333")

# ========== panel g ==========
def g_panel(ax_x, c0, c1, yr, ytv, ytt, top, low, q1, med, q3, high, notch):
    xr = rng(0, c0, 1, c1, ax_x, ax_x + 130)
    xa, ya = axes(ax_x, 1355, ax_x + 130, 1560, xr, yr, None, tick_y(ytv, ytt, 16.5))
    boxes(xa, ya, xr[0], [0, 1], low, q1, med, q3, high, [NB_C, "#fb6f42"], notch, .66, .175, .16, 4, top, "#111111", 1.5)
    L(c0, 1567, c1, 1567, "#666666"); L(c0, 1567, c0, 1575, "#666666"); L(c1, 1567, c1, 1575, "#666666")
    T(c0, 1584, "NB", 17, a="center", color="#333333")
    T(c1 + 1, 1584, "GCB", 17, a="center", color="#333333")

g_panel(85.7, 126.3, 188.7, rng(0, 1555, 50, 1375.3, 1560, 1355), [0, 10, 20, 30, 40, 50], None, 50,
        g_ac_low, g_ac_q1, g_ac_med, g_ac_q3, g_ac_high, [.55, .75])
g_panel(297.3, 340, 402.3, rng(0, 1555, .8, 1379, 1560, 1355), [0, .2, .4, .6, .8], ["0.0", "0.2", "0.4", "0.6", "0.8"], .8,
        g_me_low, g_me_q1, g_me_med, g_me_q3, g_me_high, [.008, .009])
T(45, 1466, "H3K27ac", 19.7, a="center", angle=-90)
T(255, 1466, "H3K27me3", 19.7, a="center", angle=-90)
T(249, 1320, "OCT2 pre-positioned sites", 19.5, a="center", color="#111111")
T(163, 1345, "<i>p &lt; 2x10<sup>-16</sup></i>", 16.7, a="center", color="#333333")
T(376, 1341, "<i>p &lt; 2x10<sup>-16</sup></i>", 16.7, a="center", color="#333333")
L(126.3, 1355, 188.7, 1355, "#666666"); L(126.3, 1355, 126.3, 1358, "#666666"); L(188.7, 1355, 188.7, 1358, "#666666")
L(340, 1351, 402.3, 1351, "#666666"); L(340, 1351, 340, 1355, "#666666"); L(402.3, 1351, 402.3, 1355, "#666666")

# ========== panel h ==========
h_x = [(919.7, 978), (982.8, 1041.3), (1047, 1104.4), (1110, 1168.6), (1174.4, 1232.8), (1237.4, 1296), (1301.6, 1360), (1364.7, 1423.2)]
x_full = [-o for o in h_offsets[:0:-1]] + h_offsets
def mirror(rows):
    return [r[:0:-1] + r for r in rows]
frame = dict(visible=True, showline=True, mirror=True, linecolor="#777777", showticklabels=False, ticks="")
for j, name in enumerate(h_cols):
    x0, x1 = h_x[j]
    for rows, streak, y0, y1, bottom in [(h_a[name], streak_a, 1344, 1565.5, False), (h_b[name], streak_b, 1568.5, 1758, True)]:
        xo = dict(frame)
        if bottom:
            xo.update(ticks="outside", ticklen=4, tickcolor="#666666", tickmode="array", tickvals=[-2.5, 0, 2.5])
        xa, ya = axes(x0, y0, x1, y1, [-2.5, 2.5], [11, 0], xo, dict(frame))
        fig.add_trace(go.Heatmap(z=mirror(rows), x=x_full, y=list(range(12)), xaxis=xa, yaxis=ya, zmin=h_cmin[j], zmax=h_cmax[j],
                                 colorscale=h_scales[j], zsmooth="best", showscale=False, hoverinfo="skip"))
        fig.add_trace(go.Heatmap(z=[[v, v] for v in streak], x=[-2.5, 2.5], y=[i * 11 / (len(streak) - 1) for i in range(len(streak))],
                                 xaxis=xa, yaxis=ya, zmin=-1, zmax=1, colorscale=CS_STREAK, showscale=False, hoverinfo="skip",
                                 opacity=h_streak_op[j]))
    # colour key
    steps = [h_cmin[j] + (h_cmax[j] - h_cmin[j]) * k / 10 for k in range(11)]
    xa, ya = axes(x0, 1781, x1, 1787, [0, 10], [0, 1], dict(frame), dict(frame))
    fig.add_trace(go.Heatmap(z=[steps, steps], x=list(range(11)), y=[0, 1], xaxis=xa, yaxis=ya, zmin=h_cmin[j], zmax=h_cmax[j],
                             colorscale=h_scales[j], zsmooth="best", showscale=False, hoverinfo="skip"))
    for frac, lab in zip([.05, .48, .89], h_ticks[j]):
        T(x0 + (x1 - x0) * frac, 1793.5, lab, 9, a="center", color="#333333", v="middle")
for s, x in [("OCT2", 981), ("OCAB", 1075), ("ATAC", 1139.5), ("H3K4me1", 1235.5), ("H3K27ac", 1361)]:
    T(x, 1321.5, s, 13.5, a="center", color="#222222")
for s, x, y in [("NB", 948, 1336.5), ("GCB", 1012, 1335), ("GCB", 1076, 1334), ("CB / NB", 1139.5, 1334), ("NB", 1202, 1334),
                ("GCB", 1267, 1335), ("NB", 1330, 1334), ("GCB", 1393, 1334)]:
    T(x, y, s, 13, a="center", color="#222222")
for y0, y1, c in [(1343.5, 1563.5, 1453.7), (1568.5, 1758, 1664.6)]:
    poly([(904.5, y0), (918, y0), (918, y1)], "#000000")
    T(898.4, c, "CB / NB accessibility", 14, a="center", angle=-90)
T(920, 1771, "OCT2 motif in Chip-Seq peaks +/- 2.5kb", 16)

fig.update_layout(width=W, height=H, margin=dict(l=0, r=0, t=0, b=0, autoexpand=False), paper_bgcolor="white", plot_bgcolor="rgba(0,0,0,0)",
                  showlegend=False, barmode="stack", boxmode="overlay", annotations=ann, shapes=shapes,
                  font=dict(family=FONT, color=INK), hovermode=False)

post = """
document.documentElement.style.margin='0';
document.body.style.margin='0';
var L=%s;
L.forEach(function(o){
  var t=document.querySelector('.annotation[data-index="'+o.i+'"] text.annotation-text');
  if(!t)return;
  var b=t.getBBox();var cx=b.x+b.width/2;var cy=b.y+b.height/2;var base=b.y+b.height*0.81;
  t.setAttribute('transform','translate('+cx+','+cy+') scale('+o.sx+','+o.sy+') translate('+(-cx)+','+(-base)+')');
});
""" % json.dumps(logo_js)
fig.write_html("out.html", post_script=post, config={"displayModeBar": False})
